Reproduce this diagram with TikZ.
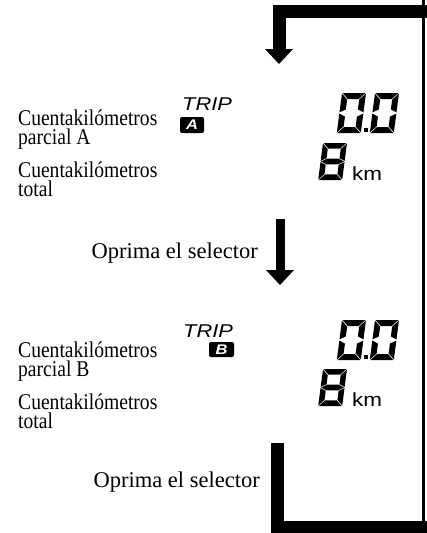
\documentclass[tikz,border=0pt]{standalone}
\usepackage{fontspec}
\setmainfont{Liberation Serif}
\newfontfamily\narrowserif[FakeStretch=0.87]{Liberation Serif}
\newfontfamily\lcdfont[FakeStretch=1.18]{Liberation Sans}
\usetikzlibrary{arrows.meta}

% segments of a seven-segment digit (top left at 0,0, y going down)
\def\sega{(\dg,0) -- ({\dw-\dg},0) -- ({\dw-\dt-\dg},\dt) -- ({\dt+\dg},\dt) -- cycle}
\def\segb{(\dw,\dg) -- (\dw,{\dh/2-\dg}) -- ({\dw-\dt},{\dh/2-\dt/2-\dg}) -- ({\dw-\dt},{\dt+\dg}) -- cycle}
\def\segc{(\dw,{\dh/2+\dg}) -- (\dw,{\dh-\dg}) -- ({\dw-\dt},{\dh-\dt-\dg}) -- ({\dw-\dt},{\dh/2+\dt/2+\dg}) -- cycle}
\def\segd{(\dg,\dh) -- ({\dw-\dg},\dh) -- ({\dw-\dt-\dg},{\dh-\dt}) -- ({\dt+\dg},{\dh-\dt}) -- cycle}
\def\sege{(0,{\dh/2+\dg}) -- (0,{\dh-\dg}) -- (\dt,{\dh-\dt-\dg}) -- (\dt,{\dh/2+\dt/2+\dg}) -- cycle}
\def\segf{(0,\dg) -- (0,{\dh/2-\dg}) -- (\dt,{\dh/2-\dt/2-\dg}) -- (\dt,{\dt+\dg}) -- cycle}
\def\segg{(\dg,{\dh/2}) -- ({\dt+\dg},{\dh/2-\dt/2}) -- ({\dw-\dt-\dg},{\dh/2-\dt/2}) -- ({\dw-\dg},{\dh/2}) -- ({\dw-\dt-\dg},{\dh/2+\dt/2}) -- ({\dt+\dg},{\dh/2+\dt/2}) -- cycle}

% #1,#2 top left, #3 width, #4 height, #5 lit segments
\newcommand{\lcddigit}[5]{%
  \begin{scope}[shift={(#1,#2)},xslant=0.13]
    \pgfmathsetmacro{\dw}{#3}
    \pgfmathsetmacro{\dh}{#4}
    \pgfmathsetmacro{\dt}{0.15*#4}
    \def\dg{0.6}
    \foreach \s in {#5} {\fill \s;}
  \end{scope}}

\begin{document}
\begin{tikzpicture}[x=1pt,y=-1pt,
  txt/.style={inner sep=0pt,align=left,anchor=base west,font=\narrowserif\fontsize{22.5}{19.5}\selectfont},
  press/.style={inner sep=0pt,anchor=base east,font=\fontsize{22.5}{27}\selectfont},
  trip/.style={inner sep=0pt,anchor=base west,font=\lcdfont\itshape\fontsize{18.5}{20}\selectfont},
  unit/.style={inner sep=0pt,anchor=base west,font=\lcdfont\fontsize{19}{20}\selectfont},
  tag/.style={fill=black,text=white,rounded corners=2pt,inner sep=0pt,minimum width=24pt,minimum height=16pt,font=\lcdfont\bfseries\itshape\fontsize{14}{14}\selectfont},
  bar/.style={line width=13pt,line join=miter},
  flow/.style={-{Triangle[width=28pt,length=15pt,line width=0pt]}}
]
\useasboundingbox (0,0) rectangle (426,533);

% trip A (base anchor sits on the last line)
\node[txt] (partA) at (18,144.5) {Cuentakilómetros\\parcial A};
\node[txt] (totalA) at (18,196.5) {Cuentakilómetros\\total};
\node[trip] (tripA) at (182,110) {TRIP};
\node[tag] (tagA) at (192,125) {A};
\lcddigit{342}{93}{24}{40}{\sega,\segb,\segc,\segd,\sege,\segf}
\fill (364,128) rectangle (368,132);
\lcddigit{375}{93}{24}{40}{\sega,\segb,\segc,\segd,\sege,\segf}
\lcddigit{323}{143}{24}{37}{\sega,\segb,\segc,\segd,\sege,\segf,\segg}
\node[unit] (kmA) at (352,180) {km};

\node[press] (press1) at (258,258) {Oprima el selector};

% trip B
\node[txt] (partB) at (18,376.5) {Cuentakilómetros\\parcial B};
\node[txt] (totalB) at (18,428.5) {Cuentakilómetros\\total};
\node[trip] (tripB) at (183,337) {TRIP};
\node[tag,minimum width=25pt,minimum height=15pt] (tagB) at (221.5,349.5) {B};
\lcddigit{342}{320}{24}{40}{\sega,\segb,\segc,\segd,\sege,\segf}
\fill (364,355) rectangle (368,359);
\lcddigit{375}{320}{24}{40}{\sega,\segb,\segc,\segd,\sege,\segf}
\lcddigit{323}{369}{24}{37}{\sega,\segb,\segc,\segd,\sege,\segf,\segg}
\node[unit] (kmB) at (352,406) {km};

\node[press] (press2) at (260,487) {Oprima el selector};

% loop back to the top
\coordinate (loopIn) at (277,443);
\coordinate (loopCorner) at (277,527);
\coordinate (loopOut) at (430,527);
\coordinate (backTop) at (423.5,0);
\coordinate (backBottom) at (423.5,533);
\coordinate (topRight) at (430,11.5);
\coordinate (topCorner) at (279,11.5);
\coordinate (tip1) at (279,64);
\coordinate (start2) at (280,219);
\coordinate (tip2) at (280,285);

\draw[bar,flow] (topRight) -- (topCorner) -- (tip1);
\draw[line width=9pt,flow] (start2) -- (tip2);
\draw[bar] (loopIn) -- (loopCorner) -- (loopOut);
\draw[line width=3pt] (backTop) -- (backBottom);
\end{tikzpicture}
\end{document}
